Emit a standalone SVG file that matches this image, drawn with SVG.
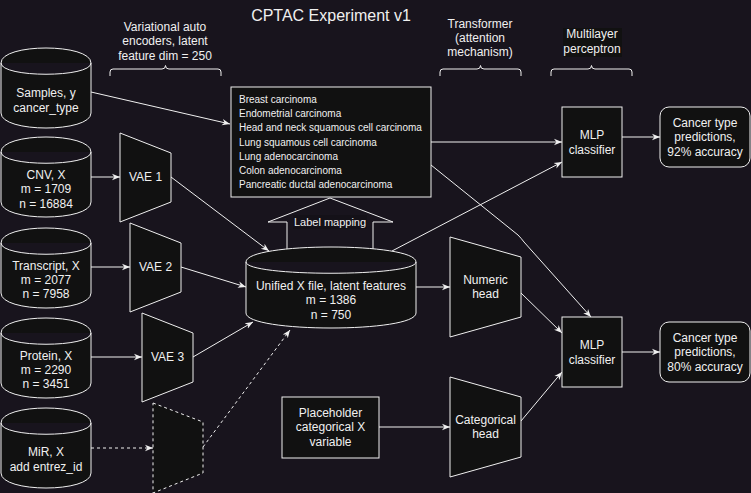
<svg xmlns="http://www.w3.org/2000/svg" width="751" height="493" viewBox="0 0 751 493">
<defs>
<style>
.n{fill:#111111;stroke:#f0f0f0;stroke-width:1}
.t{font-family:"Liberation Sans",Arial,sans-serif;font-size:12px;fill:#f0f0f0;text-anchor:middle}
.s{font-size:10px;text-anchor:start}
.e{fill:none;stroke:#f0f0f0;stroke-width:1;marker-end:url(#a)}
.d{stroke-dasharray:3 3}
.b{fill:none;stroke:#f0f0f0;stroke-width:1}
</style>
<marker id="a" viewBox="0 0 10 10" refX="10" refY="5" markerWidth="8" markerHeight="8" markerUnits="userSpaceOnUse" orient="auto">
<path d="M0,1 L10,5 L0,9 L3,5 Z" fill="#f0f0f0"/>
</marker>
</defs>
<rect width="751" height="493" fill="#18141d"/>
<text class="t" x="331" y="21" style="font-size:16px">CPTAC Experiment v1</text>

<g id="hdr-vae">
<text class="t" x="165" y="31">Variational auto</text>
<text class="t" x="165" y="45">encoders, latent</text>
<text class="t" x="165" y="60">feature dim = 250</text>
<path class="b" d="M110,76 L110,72 Q110,69 113,69 L162,69 Q165.5,69 165.5,65.5 Q165.5,69 169,69 L218,69 Q221,69 221,72 L221,76"/>
</g>
<g id="hdr-transformer">
<text class="t" x="480" y="28">Transformer</text>
<text class="t" x="480" y="42">(attention</text>
<text class="t" x="480" y="56">mechanism)</text>
<path class="b" d="M440,76 L440,72 Q440,69 443,69 L477,69 Q480.5,69 480.5,65.5 Q480.5,69 484,69 L518,69 Q521,69 521,72 L521,76"/>
</g>
<g id="hdr-mlp">
<rect x="563" y="28" width="59" height="29" fill="#111111"/>
<text class="t" x="592" y="38">Multilayer</text>
<text class="t" x="592" y="53">perceptron</text>
<path class="b" d="M551,76 L551,72 Q551,69 554,69 L588,69 Q591.5,69 591.5,65.5 Q591.5,69 595,69 L629,69 Q632,69 632,72 L632,76"/>
</g>

<g id="connectors">
<path class="e" d="M91,92 L230,124"/>
<path class="e" d="M91,177 L120,177"/>
<path class="e" d="M91,267 L130,267"/>
<path class="e" d="M91,357 L142,357"/>
<path class="e d" d="M91,448 L153,448"/>
<path class="e" d="M171,177 L269,251"/>
<path class="e" d="M181,267 L246,287"/>
<path class="e" d="M193,357 L253,322"/>
<path class="e d" d="M203,447 L290,330"/>
<path class="e" d="M431,142 L562,142"/>
<path class="e" d="M431,165 L518,235 Q521,238 524,242 L591,317"/>
<path class="e" d="M392,251 L562,162"/>
<path class="e" d="M416,287 L450,287"/>
<path class="e" d="M521,293 L562,333"/>
<path class="e" d="M379,427 L450,427"/>
<path class="e" d="M521,421 L562,372"/>
<path class="e" d="M622,137 L660,137"/>
<path class="e" d="M622,352 L660,352"/>
</g>

<g id="label-mapping">
<polygon points="287,252 287,222 268,222 330,198 393,222 373,222 373,252" fill="#18141d" stroke="#f0f0f0" stroke-width="1"/>
<rect x="293" y="215" width="74" height="14" fill="#141118"/>
<text class="t" x="330" y="226" style="font-size:11px">Label mapping</text>
</g>

<g id="samples">
<path class="n" d="M1,63 C1,43 91,43 91,63 L91,113 C91,133 1,133 1,113 Z M1,63 C1,78 91,78 91,63"/>
<text class="t" x="46" y="97">Samples, y</text>
<text class="t" x="46" y="112">cancer_type</text>
</g>
<g id="cnv">
<path class="n" d="M1,152 C1,132 91,132 91,152 L91,202 C91,222 1,222 1,202 Z M1,152 C1,167 91,167 91,152"/>
<text class="t" x="46" y="179">CNV, X</text>
<text class="t" x="46" y="193">m = 1709</text>
<text class="t" x="46" y="208">n = 16884</text>
</g>
<g id="transcript">
<path class="n" d="M1,243 C1,223 91,223 91,243 L91,293 C91,313 1,313 1,293 Z M1,243 C1,258 91,258 91,243"/>
<text class="t" x="46" y="270">Transcript, X</text>
<text class="t" x="46" y="284">m = 2077</text>
<text class="t" x="46" y="298">n = 7958</text>
</g>
<g id="protein">
<path class="n" d="M1,333 C1,313 91,313 91,333 L91,383 C91,403 1,403 1,383 Z M1,333 C1,348 91,348 91,333"/>
<text class="t" x="46" y="360">Protein, X</text>
<text class="t" x="46" y="374">m = 2290</text>
<text class="t" x="46" y="388">n = 3451</text>
</g>
<g id="mir">
<path class="n" d="M1,423 C1,403 91,403 91,423 L91,473 C91,493 1,493 1,473 Z M1,423 C1,438 91,438 91,423"/>
<text class="t" x="46" y="456">MiR, X</text>
<text class="t" x="46" y="471">add entrez_id</text>
</g>

<g id="vae1">
<polygon class="n" points="120,133 171,153 171,202 120,222"/>
<text class="t" x="145.5" y="181">VAE 1</text>
</g>
<g id="vae2">
<polygon class="n" points="130,223 181,243 181,292 130,312"/>
<text class="t" x="155.5" y="271">VAE 2</text>
</g>
<g id="vae3">
<polygon class="n" points="142,313 193,333 193,382 142,402"/>
<text class="t" x="167.5" y="361">VAE 3</text>
</g>
<g id="vae4">
<polygon class="n d" points="153,403 203,422 203,473 153,493"/>
</g>

<g id="labels">
<rect class="n" x="231" y="87" width="200" height="110"/>
<text class="t s" x="239" y="102.6">Breast carcinoma</text>
<text class="t s" x="239" y="116.9">Endometrial carcinoma</text>
<text class="t s" x="239" y="131.2">Head and neck squamous cell carcinoma</text>
<text class="t s" x="239" y="145.5">Lung squamous cell carcinoma</text>
<text class="t s" x="239" y="159.8">Lung adenocarcinoma</text>
<text class="t s" x="239" y="174.1">Colon adenocarcinoma</text>
<text class="t s" x="239" y="188.4">Pancreatic ductal adenocarcinoma</text>
</g>

<g id="unified">
<path class="n" d="M246,262 C246,242 416,242 416,262 L416,313 C416,333 246,333 246,313 Z M246,262 C246,277 416,277 416,262"/>
<text class="t" x="331" y="290">Unified X file, latent features</text>
<text class="t" x="331" y="304">m = 1386</text>
<text class="t" x="331" y="319">n = 750</text>
</g>

<g id="placeholder">
<rect class="n" x="282" y="397" width="97" height="61"/>
<text class="t" x="330.5" y="417">Placeholder</text>
<text class="t" x="330.5" y="431">categorical X</text>
<text class="t" x="330.5" y="446">variable</text>
</g>

<g id="numeric-head">
<polygon class="n" points="450,237 521,257 521,317 450,337"/>
<text class="t" x="485.5" y="284">Numeric</text>
<text class="t" x="485.5" y="298">head</text>
</g>
<g id="categorical-head">
<polygon class="n" points="450,377 521,397 521,457 450,477"/>
<text class="t" x="485.5" y="424">Categorical</text>
<text class="t" x="485.5" y="438">head</text>
</g>

<g id="mlp1">
<rect class="n" x="562" y="107" width="60" height="70"/>
<text class="t" x="592" y="139">MLP</text>
<text class="t" x="592" y="154">classifier</text>
</g>
<g id="mlp2">
<rect class="n" x="562" y="317" width="60" height="70"/>
<text class="t" x="592" y="349">MLP</text>
<text class="t" x="592" y="364">classifier</text>
</g>

<g id="result1">
<rect class="n" x="660" y="107" width="90" height="60" rx="9"/>
<text class="t" x="705" y="127">Cancer type</text>
<text class="t" x="705" y="141">predictions,</text>
<text class="t" x="705" y="156">92% accuracy</text>
</g>
<g id="result2">
<rect class="n" x="660" y="322" width="90" height="60" rx="9"/>
<text class="t" x="705" y="342">Cancer type</text>
<text class="t" x="705" y="356">predictions,</text>
<text class="t" x="705" y="371">80% accuracy</text>
</g>
</svg>
